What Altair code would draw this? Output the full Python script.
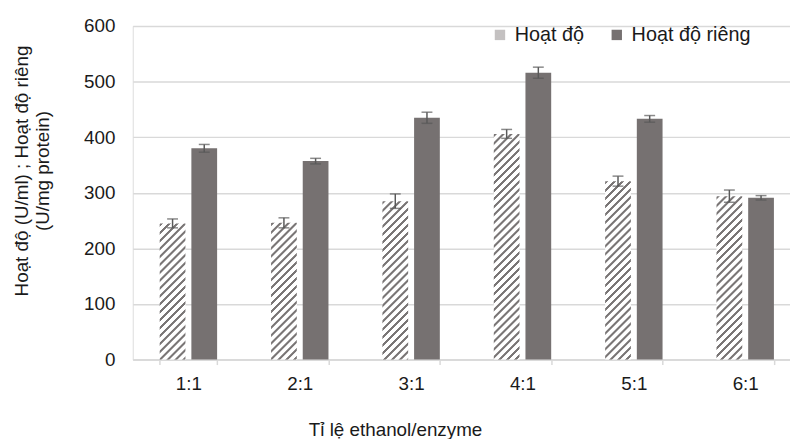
import altair as alt
import pandas as pd

# ---- data ----
categories = ["1:1", "2:1", "3:1", "4:1", "5:1", "6:1"]
series_names = ["Hoạt độ", "Hoạt độ riêng"]
hoat_do = [245, 246, 285, 406, 321, 294]
hoat_do_err = [8, 9, 13, 8, 9, 11]
hoat_do_rieng = [380, 357, 435, 516, 433, 291]
hoat_do_rieng_err = [7, 5, 10, 10, 6, 4]

rows = []
for i, (c, v, e) in enumerate(zip(categories, hoat_do, hoat_do_err)):
    rows.append({"cat": c, "ci": i, "series": series_names[0], "si": 0,
                 "value": v, "lo": v - e, "hi": v + e})
for i, (c, v, e) in enumerate(zip(categories, hoat_do_rieng, hoat_do_rieng_err)):
    rows.append({"cat": c, "ci": i, "series": series_names[1], "si": 1,
                 "value": v, "lo": v - e, "hi": v + e})
df = pd.DataFrame(rows)

# ---- layout ----
PLOT_W = 664
PLOT_H = 337
STEP = 112.5
X_RANGE = STEP * len(categories)
BAR_W = 26
GAP = 6
Y_MAX = 600
GROUP_W = 2 * BAR_W + GAP
PI = 1 - GROUP_W / STEP
SUB_PI = GAP / (BAR_W + GAP)

GREY = "#767171"
HATCH_DARK = "#7a7676"
HATCH_LIGHT = "#ffffff"
GRID = "#d9d9d9"
TEXT = "#1a1a1a"
FONT = "Liberation Sans"


def hatch(value):
    """Diagonal '/' hatch as a bbox linear gradient for a bar of given value."""
    w = BAR_W
    h = value * PLOT_H / Y_MAX
    L = w + h
    a = w * L / (w * w + h * h)
    period = 8.0
    dark = 3.0
    soft = 0.8
    stops = [{"offset": 0, "color": HATCH_LIGHT}]
    k = 0
    while k * period < L:
        s0 = k * period / L
        s1 = min((k * period + soft) / L, 1)
        s2 = min((k * period + dark) / L, 1)
        s3 = min((k * period + dark + soft) / L, 1)
        stops += [{"offset": s0, "color": HATCH_LIGHT},
                  {"offset": s1, "color": HATCH_DARK},
                  {"offset": s2, "color": HATCH_DARK},
                  {"offset": s3, "color": HATCH_LIGHT}]
        k += 1
    stops.append({"offset": 1, "color": HATCH_LIGHT})
    return {"gradient": "linear", "x1": 0, "y1": 0, "x2": a, "y2": a * h / w,
            "stops": stops}


conditions = [
    {"test": f"datum.si === 0 && datum.ci === {i}", "value": hatch(v)}
    for i, v in enumerate(hoat_do)
]

x_enc = alt.X(
    "cat:N", sort=categories,
    scale=alt.Scale(range=[0, X_RANGE], paddingInner=PI, paddingOuter=PI / 2),
    axis=alt.Axis(
        title="Tỉ lệ ethanol/enzyme", labelAngle=0, labelFontSize=19,
        labelColor=TEXT, labelPadding=10, domainColor=GRID, domainWidth=1.5,
        tickColor=GRID, tickWidth=1.5, tickSize=5, tickBand="extent", grid=False,
        titleFontSize=19, titleFontWeight="normal", titleColor=TEXT,
        titleX=265, titleY=77, titleAlign="center", titleBaseline="alphabetic",
    ),
)
xo_enc = alt.XOffset("series:N", sort=series_names,
                     scale=alt.Scale(paddingInner=SUB_PI, paddingOuter=0))

bars = alt.Chart(df).mark_bar(strokeWidth=0).encode(
    x=x_enc,
    xOffset=xo_enc,
    y=alt.Y(
        "value:Q",
        scale=alt.Scale(domain=[0, Y_MAX], nice=False),
        axis=alt.Axis(
            values=[0, 100, 200, 300, 400, 500, 600],
            title=["Hoạt độ (U/ml) ; Hoạt độ riêng", "(U/mg protein)"],
            titleFontSize=19, titleFontWeight="normal", titleColor=TEXT,
            titleAngle=270, titleX=-112, titleY=146, titleAlign="center",
            titleBaseline="middle", titleLineHeight=21,
            labelFontSize=19, labelColor=TEXT, labelPadding=18,
            domain=False, ticks=False, gridColor=GRID, gridWidth=1.5,
        ),
    ),
    fill=alt.Fill(
        "series:N", sort=series_names,
        scale=alt.Scale(domain=series_names, range=["#c4c1c1", GREY]),
        legend=alt.Legend(
            title=None, orient="none", legendX=361, legendY=-1,
            direction="horizontal", symbolType="square", symbolSize=110,
            symbolStrokeWidth=0, labelFontSize=20, labelColor=TEXT,
            labelOffset=5, columnPadding=22,
        ),
        condition=conditions,
    ),
)

rules = alt.Chart(df).mark_rule(color="#595959", strokeWidth=1.5).encode(
    x=alt.X("cat:N", sort=categories),
    xOffset=alt.XOffset("series:N", sort=series_names),
    y="lo:Q", y2="hi:Q",
)
cap_lo = alt.Chart(df).mark_tick(color="#595959", thickness=1.5, size=11).encode(
    x=alt.X("cat:N", sort=categories),
    xOffset=alt.XOffset("series:N", sort=series_names),
    y="lo:Q",
)
cap_hi = alt.Chart(df).mark_tick(color="#595959", thickness=1.5, size=11).encode(
    x=alt.X("cat:N", sort=categories),
    xOffset=alt.XOffset("series:N", sort=series_names),
    y="hi:Q",
)

chart = alt.layer(bars, rules, cap_lo, cap_hi).properties(
    width=PLOT_W, height=PLOT_H,
    autosize=alt.AutoSizeParams(type="none"),
    padding={"left": 126, "top": 16, "right": 0, "bottom": 78},
).configure_view(stroke=None).configure(font=FONT)

chart.save("out.html", embed_options={"renderer": "svg", "actions": False})
